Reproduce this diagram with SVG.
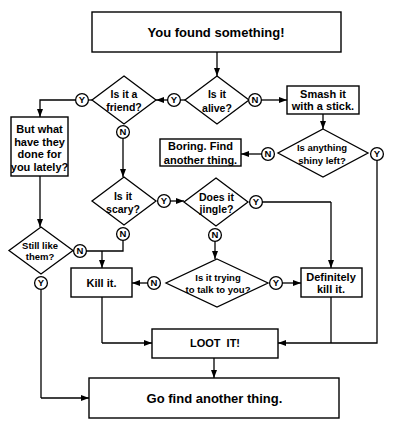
<svg xmlns="http://www.w3.org/2000/svg" width="412" height="429" viewBox="0 0 412 429">
<defs>
<marker id="ah" markerUnits="userSpaceOnUse" markerWidth="8" markerHeight="6" refX="8" refY="3" orient="auto">
<path d="M0,0 L8,3 L0,6 z" fill="#000"/>
</marker>
<style>
.box{fill:#fff;stroke:#000;stroke-width:1.4}
.dia{fill:#fff;stroke:#000;stroke-width:1.3}
.cir{fill:#fff;stroke:#000;stroke-width:1.3}
.ln{fill:none;stroke:#000;stroke-width:1.3}
.arr{fill:none;stroke:#000;stroke-width:1.3;marker-end:url(#ah)}
text{font-family:"Liberation Sans",Arial,sans-serif;font-weight:bold;text-anchor:middle;fill:#000}
.big{font-size:13px}
.t{font-size:11px}
.d{font-size:10.5px}
.s{font-size:9.5px}
.c{font-size:9.5px}
</style>
</defs>
<rect width="412" height="429" fill="#fff"/>
<g id="connectors">
<path class="arr" d="M217,52 V76"/>
<path class="ln" d="M185,100 H180"/>
<path class="arr" d="M168,100 H156"/>
<path class="arr" d="M261,100 H287"/>
<path class="ln" d="M92,100 H88"/>
<path class="arr" d="M76,100 H40 V117"/>
<path class="arr" d="M123,138 V177"/>
<path class="arr" d="M323,114 V129"/>
<path class="arr" d="M262,154 H241"/>
<path class="ln" d="M377,160 V343 H331"/>
<path class="arr" d="M331,343 H278"/>
<path class="arr" d="M40,176 V227"/>
<path class="arr" d="M170,201 H184"/>
<path class="ln" d="M123,240 V251 H86"/>
<path class="arr" d="M102,251 V268"/>
<path class="ln" d="M41,289 V398"/>
<path class="arr" d="M41,398 H89"/>
<path class="ln" d="M262,202 H331"/>
<path class="arr" d="M331,202 V268"/>
<path class="arr" d="M215,241 V259"/>
<path class="arr" d="M148,283 H132"/>
<path class="arr" d="M282,283 H301"/>
<path class="ln" d="M102,297 V343"/>
<path class="arr" d="M102,343 H152"/>
<path class="ln" d="M331,297 V343"/>
<path class="arr" d="M214,358 V378"/>
</g>
<g id="start">
<rect class="box" x="92" y="12" width="249" height="40"/>
<text class="big" x="216" y="37">You found something!</text>
</g>
<g id="alive">
<polygon class="dia" points="217,76 249,100 217,124 185,100"/>
<text class="d" x="217" y="98">Is it</text>
<text class="d" x="217" y="111.5">alive?</text>
</g>
<g id="alive-y"><circle class="cir" cx="174" cy="100" r="6.4"/><text class="c" x="174" y="103.4">Y</text></g>
<g id="alive-n"><circle class="cir" cx="255" cy="100" r="6.4"/><text class="c" x="255" y="103.4">N</text></g>
<g id="friend">
<polygon class="dia" points="124,76 156,100 124,124 92,100"/>
<text class="d" x="124" y="98">Is it a</text>
<text class="d" x="124" y="111">friend?</text>
</g>
<g id="friend-y"><circle class="cir" cx="82" cy="100" r="6.4"/><text class="c" x="82" y="103.4">Y</text></g>
<g id="friend-n"><circle class="cir" cx="123" cy="132" r="6.4"/><text class="c" x="123" y="135.4">N</text></g>
<g id="smash">
<rect class="box" x="287" y="86" width="72" height="28"/>
<text class="t" x="323" y="97.5">Smash it</text>
<text class="t" x="323" y="110">with a stick.</text>
</g>
<g id="shiny">
<polygon class="dia" points="323,129 368,153 323,177 278,153"/>
<text class="s" x="322" y="150.5">Is anything</text>
<text class="s" x="322" y="163.5">shiny left?</text>
</g>
<g id="shiny-n"><circle class="cir" cx="268" cy="154" r="6.4"/><text class="c" x="268" y="157.4">N</text></g>
<g id="shiny-y"><circle class="cir" cx="377" cy="154" r="6.4"/><text class="c" x="377" y="157.4">Y</text></g>
<g id="boring">
<rect class="box" x="160" y="139" width="81" height="27"/>
<text class="t" x="200.5" y="150">Boring. Find</text>
<text class="t" x="200.5" y="163.5">another thing.</text>
</g>
<g id="butwhat">
<rect class="box" x="11" y="117" width="57" height="59"/>
<text class="t" x="39.5" y="132.5">But what</text>
<text class="t" x="39.5" y="145.5">have they</text>
<text class="t" x="39.5" y="158">done for</text>
<text class="t" x="39.5" y="171">you lately?</text>
</g>
<g id="scary">
<polygon class="dia" points="124,177 156,201 124,225 92,201"/>
<text class="d" x="123" y="200">Is it</text>
<text class="d" x="123" y="213">scary?</text>
</g>
<g id="scary-y"><circle class="cir" cx="164" cy="201" r="6.4"/><text class="c" x="164" y="204.4">Y</text></g>
<g id="scary-n"><circle class="cir" cx="123" cy="234" r="6.4"/><text class="c" x="123" y="237.4">N</text></g>
<g id="jingle">
<polygon class="dia" points="216,178 248,202 216,226 184,202"/>
<text class="d" x="216.5" y="200.5">Does it</text>
<text class="d" x="216.5" y="213">jingle?</text>
</g>
<g id="jingle-y"><circle class="cir" cx="256" cy="202" r="6.4"/><text class="c" x="256" y="205.4">Y</text></g>
<g id="jingle-n"><circle class="cir" cx="215" cy="235" r="6.4"/><text class="c" x="215" y="238.4">N</text></g>
<g id="still">
<polygon class="dia" points="41,227 73,250.5 41,274 9,250.5"/>
<text class="s" x="40" y="248.5">Still like</text>
<text class="s" x="40" y="259.5">them?</text>
</g>
<g id="still-n"><circle class="cir" cx="80" cy="251" r="6.4"/><text class="c" x="80" y="254.4">N</text></g>
<g id="still-y"><circle class="cir" cx="41" cy="283" r="6.4"/><text class="c" x="41" y="286.4">Y</text></g>
<g id="kill">
<rect class="box" x="71" y="268" width="61" height="29"/>
<text class="t" x="101.5" y="287">Kill it.</text>
</g>
<g id="talk">
<polygon class="dia" points="217,259 268,283 217,307 166,283"/>
<text class="s" x="218" y="280.5">Is it trying</text>
<text class="s" x="218" y="292.5">to talk to you?</text>
</g>
<g id="talk-n"><circle class="cir" cx="154" cy="283" r="6.4"/><text class="c" x="154" y="286.4">N</text></g>
<g id="talk-y"><circle class="cir" cx="276" cy="283" r="6.4"/><text class="c" x="276" y="286.4">Y</text></g>
<g id="definitely">
<rect class="box" x="301" y="268" width="61" height="29"/>
<text class="t" x="331" y="280.5">Definitely</text>
<text class="t" x="331" y="293">kill it.</text>
</g>
<g id="loot">
<rect class="box" x="152" y="329" width="126" height="29"/>
<text class="t" x="215" y="347" word-spacing="3">LOOT IT!</text>
</g>
<g id="gofind">
<rect class="box" x="89" y="378" width="250" height="40"/>
<text class="big" x="214.5" y="402.5">Go find another thing.</text>
</g>
</svg>
